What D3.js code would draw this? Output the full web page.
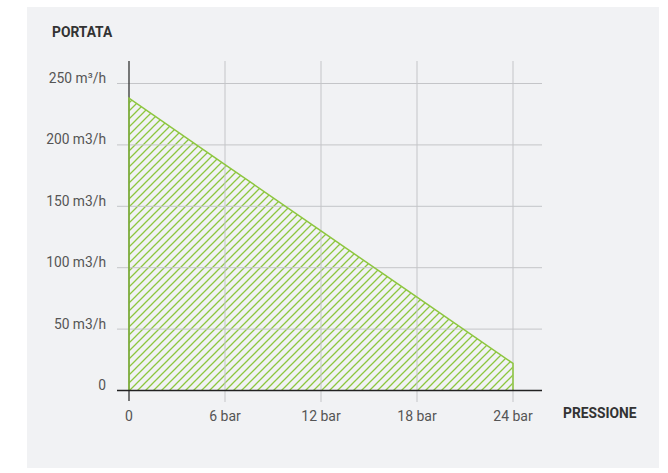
<!DOCTYPE html>
<html><head><meta charset="utf-8">
<script src="https://cdn.jsdelivr.net/npm/d3@7"></script>
<style>
html,body{margin:0;padding:0;background:#fff;}
svg{display:block;}
</style></head>
<body>
<svg id="chart" width="668" height="473"></svg>
<script>
// Data
const pressures = [0, 6, 12, 18, 24];           // bar
const flows = [238, 184, 130, 76, 22];          // m3/h
const yTicks = [0, 50, 100, 150, 200, 250];
const yTickLabels = ["0", "50 m3/h", "100 m3/h", "150 m3/h", "200 m3/h", "250 m³/h"];
const xTicks = [0, 6, 12, 18, 24];
const xTickLabels = ["0", "6 bar", "12 bar", "18 bar", "24 bar"];
const yTitle = "PORTATA";
const xTitle = "PRESSIONE";

const svg = d3.select("#chart");
const font = "Roboto, 'DejaVu Sans', sans-serif";

svg.append("rect").attr("x", 27).attr("y", 7).attr("width", 632).attr("height", 461).attr("fill", "#f1f2f4");

const x = d3.scaleLinear().domain([0, 24]).range([129, 513]);
const y = d3.scaleLinear().domain([0, 250]).range([390.5, 83.5]);

// hatch pattern
const defs = svg.append("defs");
const pat = defs.append("pattern").attr("id", "hatch").attr("patternUnits", "userSpaceOnUse")
  .attr("width", 8).attr("height", 8);
pat.append("path").attr("d", "M-2,2 l4,-4 M0,8 l8,-8 M6,10 l4,-4")
  .attr("stroke", "#8dc63f").attr("stroke-width", 1.3).attr("fill", "none");

const data = pressures.map((p, i) => ({p, f: flows[i]}));

// area fill
const area = d3.area().x(d => x(d.p)).y0(y(0)).y1(d => y(d.f));
svg.append("path").datum(data).attr("d", area).attr("fill", "url(#hatch)");

// gridlines
const gx0 = 117, gx1 = 542;
svg.append("g").selectAll("line").data(yTicks.filter(t => t > 0)).join("line")
  .attr("x1", gx0).attr("x2", gx1).attr("y1", d => y(d)).attr("y2", d => y(d))
  .attr("stroke", "#c4c5c8").attr("stroke-width", 1);
svg.append("g").selectAll("line").data(xTicks.filter(t => t > 0)).join("line")
  .attr("x1", d => x(d)).attr("x2", d => x(d)).attr("y1", 61).attr("y2", 402)
  .attr("stroke", "#c4c5c8").attr("stroke-width", 1);

// y axis dark line
svg.append("line").attr("x1", x(0)).attr("x2", x(0)).attr("y1", 61).attr("y2", 401)
  .attr("stroke", "#333").attr("stroke-width", 1.3);

// outline
const outline = [{p: 0, f: 0}, ...data, {p: 24, f: 0}];
svg.append("path").datum(outline)
  .attr("d", d3.line().x(d => x(d.p)).y(d => y(d.f)))
  .attr("fill", "none").attr("stroke", "#8dc63f").attr("stroke-width", 1.5);

// x axis dark line
svg.append("line").attr("x1", gx0).attr("x2", gx1).attr("y1", y(0)).attr("y2", y(0))
  .attr("stroke", "#222").attr("stroke-width", 1.3);

// y tick labels
svg.append("g").selectAll("text").data(yTicks).join("text")
  .attr("x", 106).attr("y", d => y(d) - 0.5)
  .attr("text-anchor", "end").attr("font-family", font).attr("font-size", 13.8)
  .attr("fill", "#555").text((d, i) => yTickLabels[i]);

// x tick labels
svg.append("g").selectAll("text").data(xTicks).join("text")
  .attr("x", d => x(d)).attr("y", 421)
  .attr("text-anchor", "middle").attr("font-family", font).attr("font-size", 14)
  .attr("fill", "#555").text((d, i) => xTickLabels[i]);

// titles
svg.append("text").attr("x", 52).attr("y", 37).attr("font-family", font)
  .attr("font-size", 13.8).attr("font-weight", "bold").attr("fill", "#333").text(yTitle);
svg.append("text").attr("x", 563).attr("y", 418).attr("font-family", font)
  .attr("font-size", 13.8).attr("font-weight", "bold").attr("fill", "#333").text(xTitle);
</script>
</body></html>
